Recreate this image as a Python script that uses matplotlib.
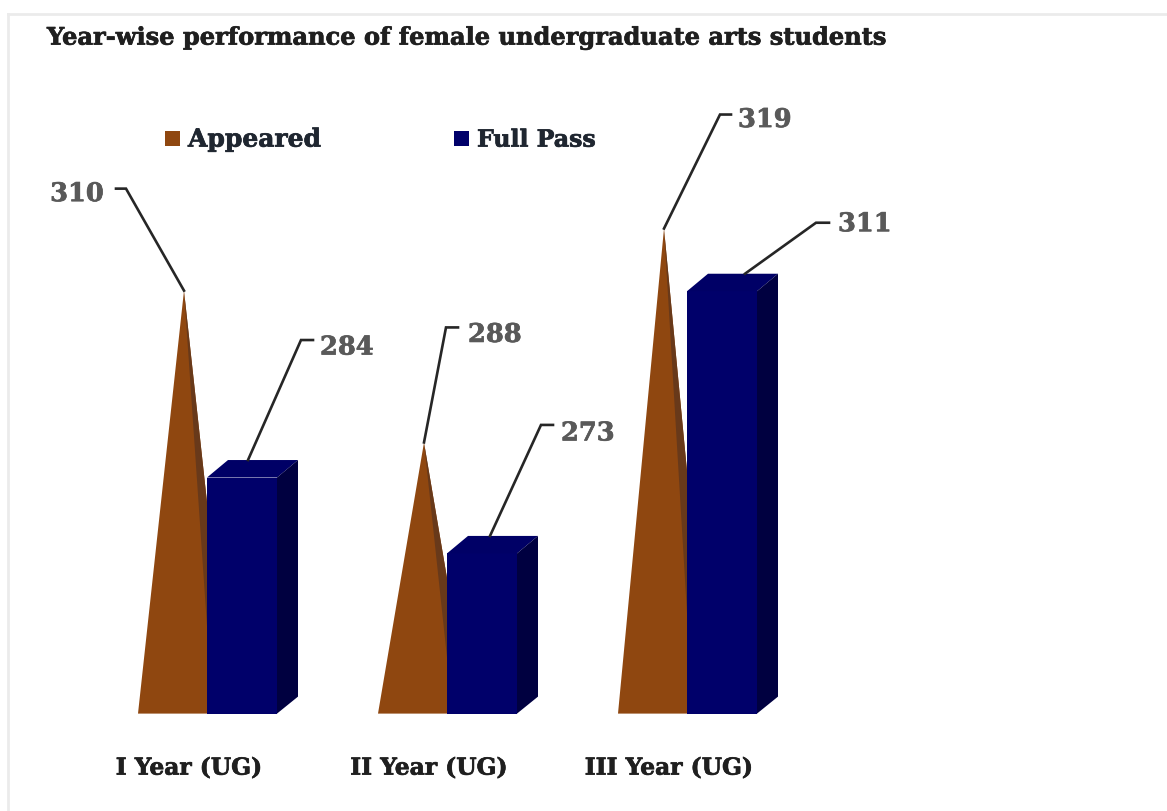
#!/usr/bin/env python3
"""Year-wise performance chart: brown cones next to 3D-looking navy bars."""

import matplotlib
matplotlib.use('Agg')
import matplotlib.pyplot as plt
import matplotlib.patheffects as pe
from matplotlib.patches import Polygon, Rectangle

categories = ['I Year (UG)', 'II Year (UG)', 'III Year (UG)']
appeared = [310, 288, 319]
full_pass = [284, 273, 311]
series_names = ['Appeared', 'Full Pass']

W, H = 1167, 812
PX_PER_GROUP = 240.0
PX_PER_UNIT = 6.9
BASE_VALUE = 248.7
FONT = 'DejaVu Serif'

BROWN = '#8f4710'
BROWN_DARK = '#68391a'
NAVY = '#00006a'
NAVY_TOP = '#000066'
NAVY_SIDE = '#000040'
LABEL_GREY = '#595959'


def dx(px):
    return px / PX_PER_GROUP


def dy(px):
    return px / PX_PER_UNIT


def bold_text(ax, x, y, s, size, color, ha='left', zorder=5):
    # Cambria bold in the original is heavier, so thicken the glyphs a little
    ax.text(x, y - dy(2), s, ha=ha, va='center', family=FONT, fontweight='bold', fontsize=size,
            color=color, zorder=zorder,
            path_effects=[pe.withStroke(linewidth=0.5, foreground=color)])


def draw_cone(ax, i, value):
    apex = i + dx(-23)
    left, right, inner = i + dx(-69), i + dx(23), i + dx(6)
    ax.add_patch(Polygon([(apex, value), (left, BASE_VALUE), (right, BASE_VALUE)],
                         closed=True, fc=BROWN, ec='none', zorder=2))
    ax.add_patch(Polygon([(apex, value), (inner, BASE_VALUE), (right, BASE_VALUE)],
                         closed=True, fc=BROWN_DARK, ec='none', zorder=2.1))


def draw_bar(ax, i, value):
    x0, x1 = i, i + dx(70)
    depth_x = dx(21)
    depth_y = dy(17)
    front = value - dy(7.5)
    back = value + dy(10)
    ax.add_patch(Rectangle((x0, BASE_VALUE), x1 - x0, front - BASE_VALUE,
                           fc=NAVY, ec='none', zorder=3))
    ax.add_patch(Polygon([(x0, front), (x0 + depth_x, back), (x1 + depth_x, back), (x1, front)],
                         closed=True, fc=NAVY_TOP, ec='none', zorder=3))
    ax.add_patch(Polygon([(x1, front), (x1 + depth_x, back),
                          (x1 + depth_x, BASE_VALUE + depth_y), (x1, BASE_VALUE)],
                         closed=True, fc=NAVY_SIDE, ec='none', zorder=3))


def draw_label(ax, x, y, value, elbow, end, text_x, text_y, ha='left'):
    """Leader line from the mark to the label; offsets are pixels from the mark."""
    xs = [x, x + dx(elbow[0]), x + dx(end[0])]
    ys = [y, y + dy(elbow[1]), y + dy(end[1])]
    ax.plot(xs, ys, color='#262626', lw=1.9, solid_joinstyle='miter', zorder=4)
    bold_text(ax, x + dx(text_x), y + dy(text_y), str(value), 18.5, LABEL_GREY, ha=ha)


fig = plt.figure(figsize=(W / 100, H / 100), dpi=100)
ax = fig.add_axes([0, 0, 1, 1])
ax.set_xlim(dx(-207), dx(W - 207))
ax.set_ylim(BASE_VALUE - dy(H - 714.6), BASE_VALUE + dy(714.6))
ax.axis('off')

# faint frame of the original screenshot
ax.plot([dx(8 - 207)] * 2, [BASE_VALUE - dy(H - 714), BASE_VALUE + dy(714 - 14)],
        color='#ebebeb', lw=2)
ax.plot([dx(8 - 207), dx(W - 207)], [BASE_VALUE + dy(714 - 14)] * 2, color='#ebebeb', lw=2)

bold_text(ax, dx(47 - 207), BASE_VALUE + dy(714 - 36),
          'Year-wise performance of female undergraduate arts students', 17.35, '#1f1f1f')

# legend
legend_sizes = [18, 17]
for name, color, sq_px, txt_px, size in zip(series_names, [BROWN, NAVY], [165, 454], [188, 477], legend_sizes):
    ax.add_patch(Rectangle((dx(sq_px - 207), BASE_VALUE + dy(714 - 146)), dx(15), dy(15),
                           fc=color, ec='none'))
    bold_text(ax, dx(txt_px - 207), BASE_VALUE + dy(714 - 138), name, size, '#1f2630')

for i, cat in enumerate(categories):
    draw_cone(ax, i, appeared[i])
    draw_bar(ax, i, full_pass[i])
    bold_text(ax, i + dx(-18), BASE_VALUE + dy(714 - 767), cat, 16.8, '#1f1f1f', ha='center')

cone_x = [i + dx(-23) for i in range(3)]
bar_x = [i + dx(41) for i in range(3)]

draw_label(ax, cone_x[0], appeared[0], appeared[0], (-58, 102), (-68, 102), -80, 99, ha='right')
draw_label(ax, bar_x[0], full_pass[0] + dy(10), full_pass[0], (53, 120), (65, 120), 72, 115)
draw_label(ax, cone_x[1], appeared[1], appeared[1], (22, 115), (34, 115), 44, 110)
draw_label(ax, bar_x[1] + dx(2), full_pass[1] + dy(10), full_pass[1], (51, 111), (63, 111), 71, 105)
draw_label(ax, cone_x[2], appeared[2], appeared[2], (56, 114), (67, 114), 74, 111)
draw_label(ax, bar_x[2] + dx(17), full_pass[2] + dy(10), full_pass[2], (71, 51), (84, 51), 93, 52)

fig.savefig('out.png', dpi=100)
